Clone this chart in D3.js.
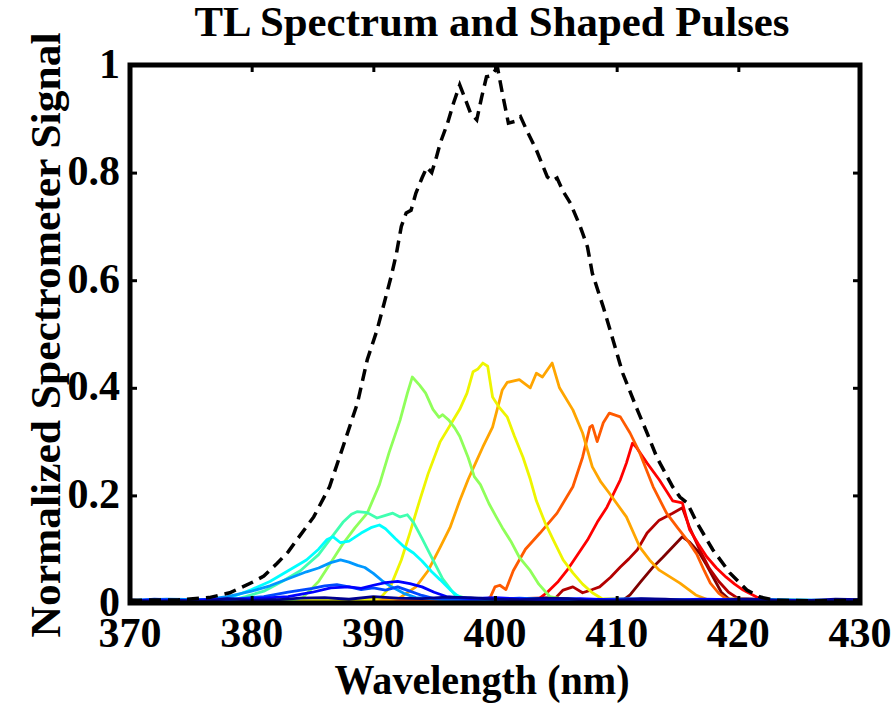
<!DOCTYPE html>
<html>
<head>
<meta charset="utf-8">
<script src="https://cdn.jsdelivr.net/npm/d3@7"></script>
<style>
    body { margin: 0; background: #fff; }
    text { font-family: "Liberation Serif", "Times New Roman", serif; font-weight: bold; fill: #000; }
</style>
</head>
<body>
<div id="chart"></div>
<script>
// tick values
const xTicks = [370, 380, 390, 400, 410, 420, 430];
const yTicks = [0, 0.2, 0.4, 0.6, 0.8, 1];
const yTickLabels = ["0", "0.2", "0.4", "0.6", "0.8", "1"];

// transform-limited spectrum (dashed) [nm, signal]
const tlSpectrum = [
    [370, .005], [374, .006], [376.5, .01], [378.2, .019], [380.1, .039], [381, .05], [382.1, .074],
    [383, .095], [383.7, .117], [385.1, .16], [386.4, .216], [387.5, .29], [388.7, .372], [389.5, .452],
    [390.3, .507], [390.9, .558], [391.5, .61], [391.9, .65], [392.3, .70], [392.7, .725], [393.1, .73],
    [393.5, .762], [394, .79], [394.4, .81], [394.8, .80], [395.2, .83], [395.5, .855], [396.1, .892],
    [396.6, .93], [397.1, .963], [397.5, .94], [398, .91], [398.5, .898], [398.9, .94], [399.3, .978],
    [399.7, .98], [400.2, .996], [400.6, .948], [401.1, .892], [401.6, .895], [402.1, .904], [402.6, .879],
    [403.4, .842], [404.3, .792], [404.7, .785], [405.1, .79], [405.6, .765], [406.2, .743], [407, .70],
    [407.6, .662], [408, .613], [408.9, .55], [409.7, .489], [410.5, .427], [411.7, .359], [412.5, .316],
    [413.3, .271], [414.6, .216], [415.2, .197], [415.8, .186], [416.6, .149], [417.9, .099], [419.3, .056],
    [420.7, .024], [421.8, .011], [423, .005], [426, .004], [430, .005]
];

// shaped pulses, red end first
const pulseMaroon = [
    [370, .004], [380, .006], [395, .005], [405, .007], [410.5, .005], [411.1, .015], [412, .04], [413, .067],
    [413.8, .085], [414.6, .104], [415.4, .123], [416, .113], [416.8, .093], [417.4, .07], [418, .045],
    [418.6, .02], [419.3, .006], [424, .005], [430, .004]
];
const pulseDarkRed = [
    [370, .004], [385, .005], [398, .006], [405, .01], [405.6, .024], [406.4, .03], [407.2, .019], [408, .025],
    [408.6, .03], [409.5, .048], [410.3, .067], [411, .082], [411.7, .099], [412.5, .13], [413.5, .154],
    [414.6, .167], [415.4, .177], [416, .14], [416.8, .10], [417.6, .065], [418.4, .04], [419.2, .02],
    [420, .008], [425, .005], [430, .004]
];
const pulseRed = [
    [370, .004], [390, .006], [403.5, .006], [404.3, .02], [405.2, .04], [405.9, .06], [406.8, .09],
    [407.6, .117], [408.4, .15], [409.2, .178], [410.3, .229], [410.8, .26], [411.3, .297], [411.6, .29],
    [412.5, .26], [413.5, .229], [414.6, .19], [415.4, .186], [416, .136], [416.7, .11], [417.4, .086],
    [418.2, .065], [419, .048], [419.7, .035], [420.4, .024], [421.5, .011], [422.5, .005], [430, .004]
];
const pulseOrangeRed = [
    [370, .004], [388, .006], [399, .006], [399.6, .01], [400, .03], [400.4, .033], [400.9, .025],
    [401.5, .06], [402.5, .10], [403.7, .13], [405.1, .167], [406.4, .216], [407.2, .271], [407.8, .327],
    [408, .33], [408.4, .30], [408.9, .335], [409.4, .353], [410.3, .346], [411.1, .316], [411.9, .279],
    [413, .216], [414.1, .167], [415, .14], [415.8, .117], [416.6, .09], [417.2, .06], [417.7, .037],
    [418.4, .018], [419, .008], [424, .005], [430, .004]
];
const pulseOrange = [
    [370, .004], [384, .006], [391.5, .006], [392.2, .01], [393.5, .03], [394.5, .06], [395.5, .104],
    [396.3, .14], [397.1, .19], [397.8, .23], [398.4, .26], [399, .29], [399.8, .327], [400.6, .396],
    [401, .41], [402, .415], [402.9, .40], [403.4, .427], [403.9, .42], [404.7, .446], [405.3, .40],
    [406.4, .359], [407.2, .316], [408, .253], [408.7, .225], [409.4, .204], [410.8, .16], [411.9, .104],
    [412.7, .08], [413.5, .061], [415.2, .037], [416.5, .015], [417.5, .006], [423, .005], [430, .004]
];
const pulseYellow = [
    [370, .004], [382, .005], [390, .006], [390.6, .01], [391.4, .03], [392.3, .08], [393, .13],
    [393.8, .19], [394.5, .24], [395.5, .30], [396.3, .33], [397.1, .36], [397.7, .39], [398.2, .43],
    [398.6, .435], [399, .446], [399.4, .44], [399.8, .383], [400.3, .365], [401, .346], [401.6, .31],
    [402.3, .271], [402.9, .23], [403.4, .19], [404.1, .15], [404.8, .117], [405.6, .08], [406.4, .056],
    [407.2, .035], [408, .019], [408.8, .008], [415, .005], [430, .004]
];
const pulseGreen = [
    [370, .004], [378, .005], [383.5, .006], [384.2, .01], [385.5, .04], [386.5, .075], [387.5, .11],
    [388.5, .14], [389.5, .167], [390.5, .22], [391.3, .28], [392.2, .34], [392.8, .39], [393.2, .42],
    [393.8, .405], [394.3, .39], [394.9, .36], [395.4, .345], [395.7, .35], [396.2, .34], [396.7, .325],
    [397.1, .31], [397.8, .27], [398.3, .235], [398.8, .22], [399.5, .185], [400.1, .16], [400.6, .14],
    [401.3, .115], [402, .085], [402.9, .06], [403.6, .035], [404.5, .012], [406, .006], [418, .005], [430, .004]
];
const pulseAqua = [
    [370, .004], [376, .006], [378.5, .006], [379.5, .012], [381, .022], [382.5, .04], [384, .06],
    [385.5, .09], [386.5, .12], [387.5, .15], [388.2, .165], [388.7, .17], [389.5, .168], [390.3, .158],
    [391, .163], [391.6, .167], [392.2, .16], [392.8, .164], [393.3, .15], [394, .12], [394.9, .08],
    [395.7, .045], [396.7, .015], [398, .006], [412, .005], [420, .007], [430, .004]
];
const pulseCyan = [
    [370, .005], [374, .004], [377, .006], [378.5, .012], [380, .025], [381.5, .04], [383, .06],
    [384.5, .08], [385.5, .10], [386.2, .118], [386.7, .123], [387.3, .112], [388, .115], [389, .13],
    [389.8, .14], [390.5, .145], [391, .138], [391.8, .12], [392.5, .105], [393.3, .093], [394, .078],
    [394.8, .058], [395.5, .043], [396.3, .025], [397.1, .01], [399, .006], [405, .008], [410, .005], [430, .005]
];
const pulseSky = [
    [370, .005], [373, .007], [376, .006], [378, .012], [380, .022], [381.5, .032], [383, .045],
    [384.5, .058], [385.5, .065], [386.5, .075], [387.3, .08], [388, .076], [388.7, .07], [389.3, .066],
    [390, .055], [390.8, .04], [391.5, .03], [392.5, .018], [393.5, .01], [396, .006], [404, .008],
    [412, .005], [422, .006], [430, .005]
];
const pulseBlue = [
    [370, .004], [372, .007], [375, .005], [378, .006], [381, .012], [383, .02], [385, .027], [386, .032],
    [387, .034], [388, .03], [389, .025], [390, .028], [391, .024], [392, .03], [393, .022], [394, .014],
    [395, .008], [398, .006], [402, .009], [406, .005], [411, .008], [416, .005], [421, .007], [426, .004],
    [430, .006]
];
const pulseDeepBlue = [
    [370, .005], [374, .004], [377, .007], [380, .008], [383, .012], [385, .02], [386.5, .028], [388, .03],
    [389, .027], [390, .033], [391, .038], [392, .04], [393, .036], [394, .03], [395, .02], [396, .012],
    [398, .008], [400, .01], [403, .006], [407, .008], [412, .004], [417, .007], [423, .005], [430, .005]
];
const pulseNavy = [
    [370, .006], [372, .003], [374, .005], [376, .003], [378, .008], [380, .005], [382, .006], [384, .009],
    [386, .01], [388, .007], [390, .012], [392, .009], [394, .008], [396, .011], [398, .01], [400, .007],
    [402, .006], [404, .009], [406, .008], [408, .004], [410, .005], [412, .008], [414, .007], [416, .005],
    [418, .004], [420, .007], [422, .006], [424, .004], [426, .005], [428, .007], [430, .006]
];

const pulses = [pulseMaroon, pulseDarkRed, pulseRed, pulseOrangeRed, pulseOrange, pulseYellow,
    pulseGreen, pulseAqua, pulseCyan, pulseSky, pulseBlue, pulseDeepBlue, pulseNavy];
const pulseColors = ["#7f0000", "#b40000", "#ff0000", "#ff5a00", "#ffa500", "#eef500",
    "#8fff5a", "#40ffb0", "#00ffff", "#0098ff", "#0048ff", "#0000ff", "#00008f"];

// layout
const W = 896, H = 706;
const margin = {top: 65, right: 36, bottom: 103, left: 130};
const width = W - margin.left - margin.right;
const height = H - margin.top - margin.bottom;

const svg = d3.select("#chart").append("svg")
    .attr("width", W)
    .attr("height", H);

const g = svg.append("g")
    .attr("transform", `translate(${margin.left},${margin.top})`);

const x = d3.scaleLinear().domain([370, 430]).range([0, width]);
const y = d3.scaleLinear().domain([0, 1]).range([height, 0]);

g.append("clipPath").attr("id", "plot-clip")
    .append("rect").attr("width", width).attr("height", height);

const line = d3.line()
    .x(d => x(d[0]))
    .y(d => y(d[1]));

const plot = g.append("g").attr("clip-path", "url(#plot-clip)");

plot.selectAll(".pulse")
    .data(pulses)
    .enter().append("path")
    .attr("class", "pulse")
    .attr("d", line)
    .attr("fill", "none")
    .attr("stroke", (d, i) => pulseColors[i])
    .attr("stroke-width", 2.8)
    .attr("stroke-linejoin", "round");

plot.append("path")
    .datum(tlSpectrum)
    .attr("d", line)
    .attr("fill", "none")
    .attr("stroke", "#000")
    .attr("stroke-width", 3.5)
    .attr("stroke-dasharray", "12,7");

// ticks on all four sides, pointing inward
const tickLen = 7;
const axisStyle = sel => {
    sel.select(".domain").remove();
    sel.selectAll(".tick line").attr("stroke", "#000").attr("stroke-width", 3);
};

g.append("g")
    .attr("transform", `translate(0,${height})`)
    .call(d3.axisBottom(x).tickValues(xTicks).tickSize(-tickLen).tickFormat(""))
    .call(axisStyle);
g.append("g")
    .call(d3.axisTop(x).tickValues(xTicks).tickSize(-tickLen).tickFormat(""))
    .call(axisStyle);
g.append("g")
    .call(d3.axisLeft(y).tickValues(yTicks).tickSize(-tickLen).tickFormat(""))
    .call(axisStyle);
g.append("g")
    .attr("transform", `translate(${width},0)`)
    .call(d3.axisRight(y).tickValues(yTicks).tickSize(-tickLen).tickFormat(""))
    .call(axisStyle);

// frame
g.append("rect")
    .attr("width", width)
    .attr("height", height)
    .attr("fill", "none")
    .attr("stroke", "#000")
    .attr("stroke-width", 5);

// tick labels
g.selectAll(".x-label")
    .data(xTicks)
    .enter().append("text")
    .attr("class", "x-label")
    .attr("x", d => x(d))
    .attr("y", height + 44)
    .attr("text-anchor", "middle")
    .style("font-size", "42px")
    .text(d => d);

g.selectAll(".y-label")
    .data(yTicks)
    .enter().append("text")
    .attr("class", "y-label")
    .attr("x", -10)
    .attr("y", d => y(d))
    .attr("dy", "0.3em")
    .attr("text-anchor", "end")
    .style("font-size", "42px")
    .text((d, i) => yTickLabels[i]);

// title and axis titles
svg.append("text")
    .attr("x", 492)
    .attr("y", 36)
    .attr("text-anchor", "middle")
    .attr("textLength", 595)
    .attr("lengthAdjust", "spacingAndGlyphs")
    .style("font-size", "42px")
    .text("TL Spectrum and Shaped Pulses");

svg.append("text")
    .attr("x", 482)
    .attr("y", 694)
    .attr("text-anchor", "middle")
    .attr("textLength", 295)
    .attr("lengthAdjust", "spacingAndGlyphs")
    .style("font-size", "42px")
    .text("Wavelength (nm)");

svg.append("text")
    .attr("transform", "translate(60,335) rotate(-90)")
    .attr("text-anchor", "middle")
    .attr("textLength", 605)
    .attr("lengthAdjust", "spacingAndGlyphs")
    .style("font-size", "42px")
    .text("Normalized Spectrometer Signal");
</script>
</body>
</html>
